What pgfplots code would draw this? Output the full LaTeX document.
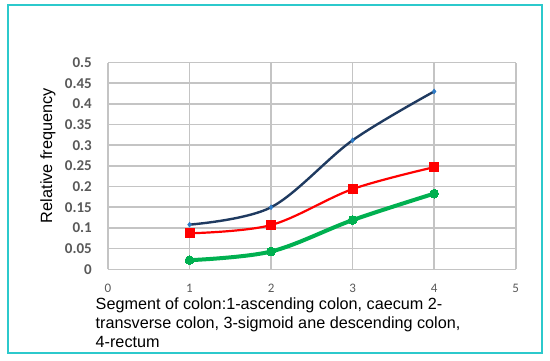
\documentclass[border=0pt]{standalone}
\usepackage{pgfplots}
\pgfplotsset{compat=1.18}
\usepackage{fontspec}
\setmainfont{Liberation Sans}
\newfontfamily\calibri{Carlito}
\definecolor{frame}{HTML}{2CC9CC}
\definecolor{gridc}{HTML}{C4C4C4}
\definecolor{navy}{HTML}{1F3A60}
\definecolor{mblue}{HTML}{2E7BC6}
\definecolor{lred}{HTML}{FF0000}
\definecolor{lgreen}{HTML}{00B050}
\definecolor{tickc}{HTML}{595959}
\begin{document}
\begin{tikzpicture}
\useasboundingbox (0pt,0pt) rectangle (550pt,360pt);
\draw[frame, line width=2pt] (8pt,7pt) rectangle (542pt,355pt);
\begin{axis}[
  at={(108pt,90.7pt)}, anchor=south west,
  scale only axis, width=407.7pt, height=206.8pt,
  xmin=0, xmax=5, ymin=0, ymax=0.5,
  xtick={0,1,2,3,4,5}, xticklabels={0,1,2,3,4,5},
  ytick={0,0.05,0.1,0.15,0.2,0.25,0.3,0.35,0.4,0.45,0.5},
  yticklabels={0,0.05,0.1,0.15,0.2,0.25,0.3,0.35,0.4,0.45,0.5},
  major tick length=0pt,
  axis line style={draw=none},
  grid=major,
  major grid style={gridc, line width=1.6pt},
  yticklabel style={font=\calibri\bfseries\fontsize{15}{16}\selectfont, text=tickc, anchor=east, inner sep=0pt, xshift=-16pt},
  xticklabel style={font=\calibri\fontsize{13}{14}\selectfont, text=tickc, anchor=center, inner sep=0pt, yshift=-19pt},
  clip=false,
]
\addplot[navy, line width=2.4pt, smooth, tension=0.55, mark=diamond*, mark size=2.6pt, mark options={mblue, fill=mblue, line width=0.3pt}]
  coordinates {(1,0.108) (2,0.150) (3,0.312) (4,0.430)};
\addplot[lred, line width=2.2pt, smooth, tension=0.55, mark=square*, mark size=4.5pt, mark options={lred, fill=lred, line width=0pt}]
  coordinates {(1,0.087) (2,0.107) (3,0.194) (4,0.247)};
\addplot[lgreen, line width=4pt, smooth, tension=0.55, mark=*, mark size=4.4pt, mark options={lgreen, fill=lgreen, line width=0pt}]
  coordinates {(1,0.022) (2,0.043) (3,0.119) (4,0.183)};
\end{axis}
\node[rotate=90, font=\fontsize{16.3}{18}\selectfont, inner sep=0pt] at (48pt,204.5pt) {Relative frequency};
\node[anchor=base west, align=left, inner sep=0pt, font=\fontsize{16.2}{18.6}\selectfont] at (95.5pt,13pt)
  {Segment of colon:1-ascending colon, caecum 2-\\transverse colon, 3-sigmoid ane descending colon,\\4-rectum};
\end{tikzpicture}
\end{document}
